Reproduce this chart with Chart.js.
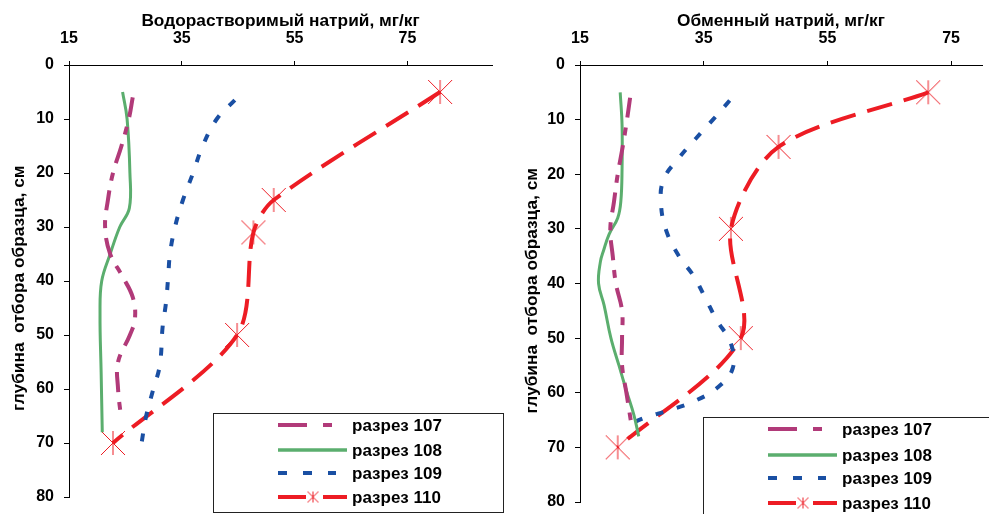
<!DOCTYPE html>
<html><head><meta charset="utf-8">
<script src="https://cdn.jsdelivr.net/npm/chart.js@4.4.1/dist/chart.umd.min.js"></script>
<style>
html,body{margin:0;padding:0;background:#fff;}
#wrap{position:relative;width:989px;height:514px;overflow:hidden;background:#fff;}
canvas{position:absolute;left:0;top:0;}
</style>
</head><body>
<div id="wrap"><canvas id="c1" width="989" height="514"></canvas><canvas id="c2" width="989" height="514"></canvas></div>
<script>
// ---------- texts ----------
const titleLeft = 'Водорастворимый натрий, мг/кг';
const titleRight = 'Обменный натрий, мг/кг';
const yTitle = 'глубина  отбора образца, см   ';
const seriesNames = ['разрез 107', 'разрез 108', 'разрез 109', 'разрез 110'];
const xTicks = [15, 35, 55, 75];

// ---------- data: left panel (water-soluble sodium, mg/kg vs depth, cm) ----------
const depth107L = [6, 10, 15, 20, 25, 30, 35, 39, 43, 47, 50, 55, 60, 65];
const na107L    = [26.3, 25.6, 24.3, 22.8, 21.9, 21.4, 22.3, 24.4, 26.3, 26.7, 25.8, 23.7, 23.7, 24.2];
const depth108L = [5, 10, 20, 26.5, 30, 35, 40, 46, 57, 68];
const na108L    = [24.5, 25.3, 25.8, 25.7, 24.0, 22.3, 20.8, 20.5, 20.7, 20.9];
const depth109L = [6.5, 10, 15, 20, 25, 30, 35, 39, 44, 48.5, 55.6, 60.2, 65.4, 69.8];
const na109L    = [44.4, 41.2, 38.7, 37.0, 35.2, 33.8, 32.9, 32.6, 32.2, 31.6, 31.1, 29.9, 28.6, 27.9];
const depth110L = [5, 25, 31, 50, 70];
const na110L    = [80.8, 51.3, 47.7, 44.8, 22.8];

// ---------- data: right panel (exchangeable sodium, mg/kg vs depth, cm) ----------
const depth107R = [6, 10, 15, 20, 25, 30, 35, 40, 45, 50, 55, 60, 65];
const na107R    = [23.1, 22.6, 21.9, 21.1, 20.5, 19.9, 20.3, 20.8, 21.8, 21.8, 21.8, 22.5, 23.2];
const depth108R = [5, 11, 19, 25, 28, 31, 34, 36, 40, 44, 50, 55, 60, 64, 68];
const na108R    = [21.5, 21.8, 21.8, 21.6, 21.1, 19.7, 18.8, 18.3, 18.0, 18.9, 20.0, 21.3, 22.6, 23.7, 24.5];
const depth109R = [6.5, 10, 13.5, 17, 21, 25.5, 30.5, 35, 38.5, 42.5, 46.5, 51, 55.5, 59, 61.7, 63.2, 64.7, 66.3];
const na109R    = [39.2, 36.5, 33.7, 31.0, 28.5, 28.1, 29.0, 31.0, 33.3, 35.2, 37.0, 39.4, 39.7, 37.3, 33.2, 29.4, 25.2, 22.1];
const depth110R = [5, 15, 30, 50, 70];
const na110R    = [71.3, 47.1, 39.4, 41.0, 21.1];

// ---------- styles ----------
const C107 = '#B13A79', C108 = '#5BAE6E', C109 = '#1A4FA3', C110 = '#ED1C24';
const FONT = '"Liberation Sans", Arial, sans-serif';

function pts(d, v) { return d.map((y, i) => ({ x: v[i], y: y })); }

function starImg(size, lw) {
  const c = document.createElement('canvas');
  c.width = size + 2; c.height = size + 2;
  const g = c.getContext('2d');
  g.strokeStyle = C110; g.lineWidth = lw;
  g.beginPath();
  g.moveTo(1, 1); g.lineTo(size + 1, size + 1);
  g.moveTo(size + 1, 1); g.lineTo(1, size + 1);
  g.moveTo(size / 2 + 1, 1); g.lineTo(size / 2 + 1, size + 1);
  g.stroke();
  return c;
}
const bigStar = starImg(24, 1);
const smallStar = starImg(11, 1);

function datasets(d107, v107, d108, v108, d109, v109, d110, v110) {
  return [
    { label: seriesNames[0], data: pts(d107, v107), borderColor: C107, borderWidth: 4, borderDash: [20, 10, 8, 10], pointRadius: 0, tension: 0.4 },
    { label: seriesNames[1], data: pts(d108, v108), borderColor: C108, borderWidth: 3, pointRadius: 0, tension: 0.4 },
    { label: seriesNames[2], data: pts(d109, v109), borderColor: C109, borderWidth: 4, borderDash: [8, 14], pointRadius: 0, tension: 0.4 },
    { label: seriesNames[3], data: pts(d110, v110), borderColor: C110, borderWidth: 4, borderDash: [26, 12], pointRadius: 12, pointStyle: bigStar, tension: 0.3 }
  ].map(ds => Object.assign(ds, { showLine: true, fill: false, borderCapStyle: 'butt' }));
}

function legendPlugin(cfg) {
  return {
    id: 'customLegend',
    afterDraw(chart) {
      const ctx = chart.ctx;
      ctx.save();
      const [bx, by, bw, bh] = cfg.box;
      ctx.fillStyle = '#fff';
      ctx.fillRect(bx, by, bw, bh);
      ctx.strokeStyle = '#222'; ctx.lineWidth = 1; ctx.setLineDash([]);
      ctx.strokeRect(bx + 0.5, by + 0.5, bw, bh);
      const x0 = cfg.sx;
      const seg = (y, a, b, col, lw) => { ctx.strokeStyle = col; ctx.lineWidth = lw; ctx.lineCap = 'butt'; ctx.beginPath(); ctx.moveTo(x0 + a, y); ctx.lineTo(x0 + b, y); ctx.stroke(); };
      const r = cfg.rows;
      seg(r[0], 0, 29, C107, 4); seg(r[0], 45, 54, C107, 4);
      seg(r[1], 0, 69, C108, 3.5);
      seg(r[2], 0, 9, C109, 4); seg(r[2], 25, 34, C109, 4); seg(r[2], 50, 58, C109, 4);
      seg(r[3], 0, 28, C110, 4); seg(r[3], 45, 69, C110, 4);
      ctx.drawImage(smallStar, x0 + 35 - smallStar.width / 2, r[3] - smallStar.height / 2);
      ctx.fillStyle = '#000';
      ctx.font = 'bold 17px ' + FONT;
      ctx.textBaseline = 'middle'; ctx.textAlign = 'left';
      seriesNames.forEach((n, i) => ctx.fillText(n, cfg.tx, r[i] + 1));
      ctx.restore();
    }
  };
}

function makeChart(id, ds, xMax, padding, yWidth, yTitlePad, legendCfg, title) {
  return new Chart(document.getElementById(id), {
    type: 'scatter',
    data: { datasets: ds },
    plugins: [legendPlugin(legendCfg)],
    options: {
      responsive: false, animation: false, devicePixelRatio: 1,
      layout: { padding: padding, autoPadding: false },
      plugins: { legend: { display: false }, tooltip: { enabled: false } },
      scales: {
        x: {
          type: 'linear', position: 'top', min: 15, max: xMax,
          afterBuildTicks: s => { s.ticks = xTicks.map(v => ({ value: v })); },
          afterFit: s => { s.height = 65; s.paddingLeft = 0; s.paddingRight = 0; },
          grid: { drawOnChartArea: false, drawTicks: true, tickLength: 4, tickColor: '#000' },
          border: { display: true, color: '#000', width: 1 },
          ticks: { color: '#000', font: { family: FONT, size: 16, weight: 'bold' }, padding: 13, maxRotation: 0, autoSkip: false },
          title: { display: true, text: title, color: '#000', font: { family: FONT, size: 17.3, weight: 'bold' }, padding: { top: 11, bottom: 0 } }
        },
        y: {
          type: 'linear', position: 'left', reverse: true, min: 0, max: 80,
          ticks: { stepSize: 10, color: '#000', font: { family: FONT, size: 16, weight: 'bold' }, padding: 10 },
          afterFit: s => { s.width = yWidth; s.paddingTop = 0; s.paddingBottom = 0; },
          grid: { drawOnChartArea: false, drawTicks: true, tickLength: 5, tickColor: '#000' },
          border: { display: true, color: '#000', width: 1 },
          title: { display: true, text: yTitle, color: '#000', font: { family: FONT, size: 17.3, weight: 'bold' }, padding: { top: yTitlePad, bottom: 0 } }
        }
      }
    }
  });
}

makeChart('c1',
  datasets(depth107L, na107L, depth108L, na108L, depth109L, na109L, depth110L, na110L),
  90, { left: 0, top: 0, right: 497, bottom: 17 }, 69, 8.5,
  { box: [213, 413, 290, 99], sx: 278, tx: 352, rows: [425, 450, 473, 497] }, titleLeft);

makeChart('c2',
  datasets(depth107R, na107R, depth108R, na108R, depth109R, na109R, depth110R, na110R),
  80, { left: 495, top: 0, right: 7, bottom: 12 }, 85, 26.5,
  { box: [703, 417, 300, 110], sx: 768, tx: 842, rows: [429, 455, 478, 503] }, titleRight);
</script>
</body></html>
